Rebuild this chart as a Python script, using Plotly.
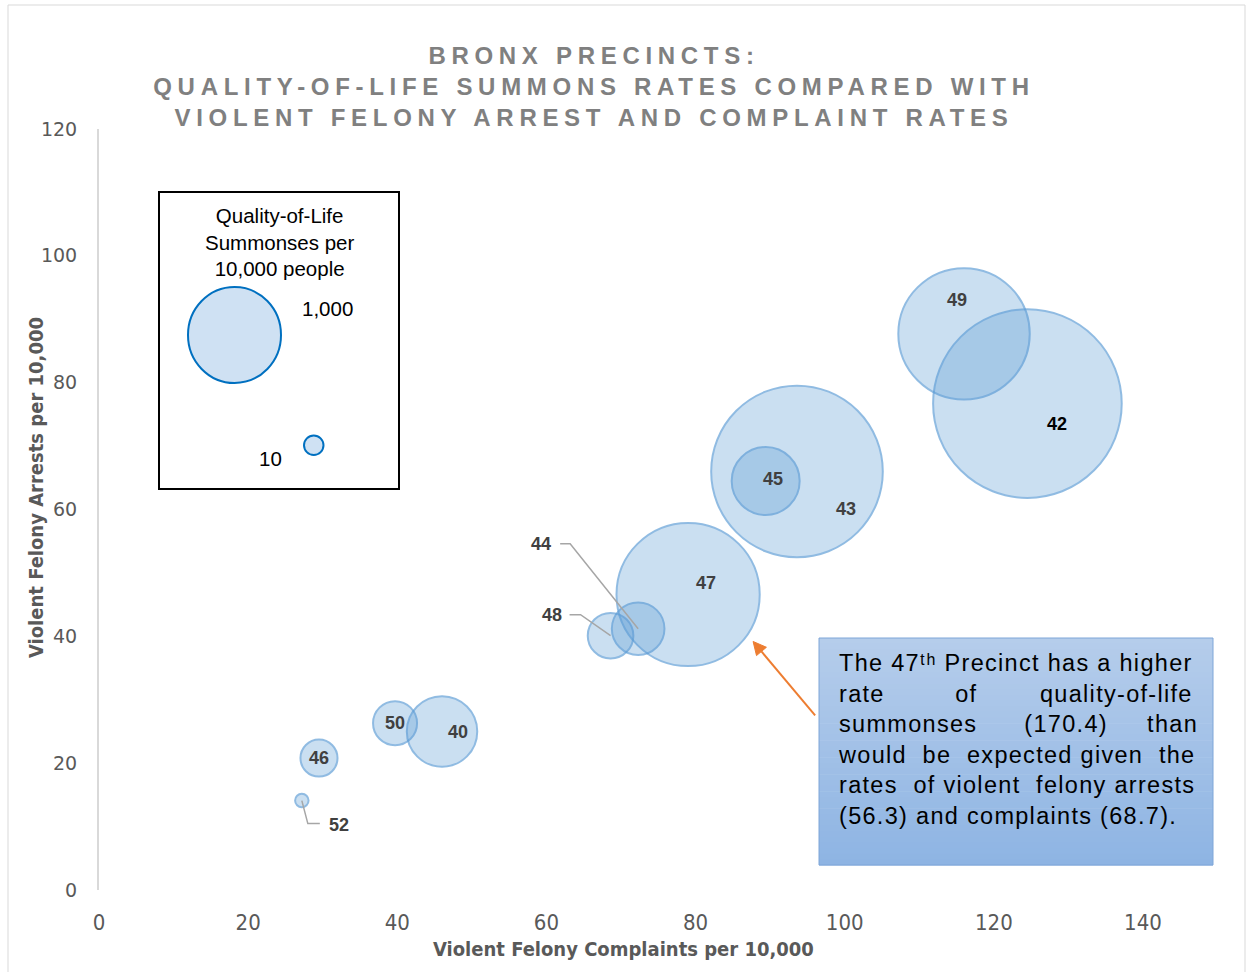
import math
import plotly.graph_objects as go

# ---------------- data ----------------
precincts = ["52", "46", "50", "40", "48", "44", "47", "45", "43", "49", "42"]
complaints = [27.2, 29.5, 39.7, 46.0, 68.6, 72.3, 79.0, 89.4, 93.6, 116.0, 124.5]
arrests = [14.1, 20.8, 26.3, 25.0, 40.1, 41.2, 46.6, 64.5, 66.0, 87.7, 76.7]
summons = [1.5, 11.4, 16.1, 41.2, 17.3, 23.0, 170.4, 38.4, 244.7, 143.5, 295.6]

x_ticks = [0, 20, 40, 60, 80, 100, 120, 140]
y_ticks = [0, 20, 40, 60, 80, 100, 120]

legend_title = "Quality-of-Life<br>Summonses per<br>10,000 people"
legend_values = ["1,000", "10"]

# callout lines (padding spaces emulate the justified text of the original)
callout_lines = [
    "The 47ᵗʰ Precinct has a higher",
    "rate         of        quality-of-life",
    "summonses      (170.4)     than",
    "would  be  expected given  the",
    "rates  of violent  felony arrests",
    "(56.3) and complaints (68.7).",
]

# ---------------- style ----------------
W, H = 1250, 972
L, R, T, B = 99, 107, 129, 82
PW, PH = W - L - R, H - T - B


def px(x):
    return (x - L) / PW


def py(y):
    return (H - B - y) / PH


# label offsets in pixels (xshift, yshift up-positive)
label_off = {
    "52": (37, -24), "46": (0, 0), "50": (0, 0), "40": (16, -1),
    "48": (-59, 21), "44": (-97, 85), "47": (18, 11), "45": (7, 2),
    "43": (49, -38), "49": (-7, 34), "42": (30, -20),
}
leaders = {
    "52": "M0,0 L6,-23 L18,-23",
    "48": "M0,0 L-30,21 L-41,21",
    "44": "M0,0 L-68,85 L-78,85",
}

bubble_max_px = 143.2
sizeref = 2 * 170.4 / (bubble_max_px ** 2)

fig = go.Figure()
fig.add_trace(go.Scatter(
    x=complaints, y=arrests, mode="markers",
    marker=dict(size=summons, sizemode="area", sizeref=sizeref,
                color="rgba(91,155,213,0.45)",
                line=dict(color="rgba(91,155,213,0.95)", width=2)),
    hovertext=precincts, showlegend=False, cliponaxis=False,
))

annotations = []
shapes = []
for p, xv, yv in zip(precincts, complaints, arrests):
    dx, dy = label_off[p]
    annotations.append(dict(
        x=xv, y=yv, xref="x", yref="y", text=p, showarrow=False,
        xshift=dx, yshift=dy,
        font=dict(family="Liberation Sans", size=18, weight="bold",
                  color="#000000" if p == "42" else "#404040"),
    ))
    if p in leaders:
        shapes.append(dict(
            type="path", xref="x", yref="y", xsizemode="pixel", ysizemode="pixel",
            xanchor=xv, yanchor=yv, path=leaders[p],
            line=dict(color="#A6A6A6", width=1.5), layer="above",
        ))

# outer chart border
shapes.append(dict(type="rect", xref="paper", yref="paper",
                   x0=px(8), x1=px(1245), y0=py(990), y1=py(5),
                   line=dict(color="#D9D9D9", width=1), layer="below"))

# legend box
shapes.append(dict(type="rect", xref="paper", yref="paper",
                   x0=px(159), x1=px(399), y0=py(489), y1=py(192),
                   line=dict(color="#000000", width=2), fillcolor="white", layer="below"))
shapes.append(dict(type="circle", xref="paper", yref="paper",
                   x0=px(188), x1=px(281), y0=py(383), y1=py(287),
                   line=dict(color="#0070C0", width=2), fillcolor="#CFE1F3"))
shapes.append(dict(type="circle", xref="paper", yref="paper",
                   x0=px(304), x1=px(323.5), y0=py(455), y1=py(435.5),
                   line=dict(color="#0070C0", width=2), fillcolor="#CFE1F3"))
annotations.append(dict(xref="paper", yref="paper", x=px(279), y=py(201.5),
                        xanchor="center", yanchor="top", text=legend_title,
                        showarrow=False,
                        font=dict(family="Liberation Sans", size=20.5, color="#000000")))
annotations.append(dict(xref="paper", yref="paper", x=px(327), y=py(308),
                        xanchor="center", yanchor="middle", text=legend_values[0],
                        showarrow=False,
                        font=dict(family="Liberation Sans", size=20.5, color="#000000")))
annotations.append(dict(xref="paper", yref="paper", x=px(270), y=py(458),
                        xanchor="center", yanchor="middle", text=legend_values[1],
                        showarrow=False,
                        font=dict(family="Liberation Sans", size=20.5, color="#000000")))

# callout box with vertical gradient
bx0, bx1, by0, by1 = 819, 1213, 638, 865
top_c = (181, 205, 235)
bot_c = (142, 180, 227)
n = 40
for i in range(n):
    t = (i + 0.5) / n
    c = tuple(round(top_c[k] + (bot_c[k] - top_c[k]) * t) for k in range(3))
    ya = by0 + (by1 - by0) * i / n
    yb = by0 + (by1 - by0) * (i + 1) / n
    shapes.append(dict(type="rect", xref="paper", yref="paper",
                       x0=px(bx0), x1=px(bx1), y0=py(yb + 0.6), y1=py(ya),
                       line=dict(width=0), fillcolor="rgb(%d,%d,%d)" % c, layer="above"))
shapes.append(dict(type="rect", xref="paper", yref="paper",
                   x0=px(bx0), x1=px(bx1), y0=py(by1), y1=py(by0),
                   line=dict(color="#7EA6D8", width=1), layer="above"))

callout = "<br>".join('<span style="letter-spacing:1.3px">%s</span>' % s
                      for s in callout_lines)
annotations.append(dict(xref="paper", yref="paper", x=px(836), y=py(648),
                        xanchor="left", yanchor="top", align="left", text=callout,
                        showarrow=False,
                        font=dict(family="Liberation Sans", size=23.5, color="#000000")))

# orange arrow pointing at precinct 47 (pixel offsets from its bubble centre)
i47 = precincts.index("47")
hx, hy = 65, -47      # head
tx, ty = 127, -121    # tail
dx, dy = hx - tx, hy - ty
ln = math.hypot(dx, dy)
ux, uy = dx / ln, dy / ln
pxp, pyp = -uy, ux
hl, hw = 13, 6.5
bxc, byc = hx - hl * ux, hy - hl * uy
shapes.append(dict(type="path", xref="x", yref="y", xsizemode="pixel", ysizemode="pixel",
                   xanchor=complaints[i47], yanchor=arrests[i47],
                   path="M%.1f,%.1f L%.1f,%.1f" % (tx, ty, bxc, byc),
                   line=dict(color="#ED7D31", width=2), layer="above"))
shapes.append(dict(type="path", xref="x", yref="y", xsizemode="pixel", ysizemode="pixel",
                   xanchor=complaints[i47], yanchor=arrests[i47],
                   path="M%.1f,%.1f L%.1f,%.1f L%.1f,%.1f Z" % (
                       hx, hy, bxc + hw * pxp, byc + hw * pyp, bxc - hw * pxp, byc - hw * pyp),
                   line=dict(color="#ED7D31", width=1), fillcolor="#ED7D31", layer="above"))

# axis titles
annotations.append(dict(xref="paper", yref="paper", x=px(623), y=py(949),
                        xanchor="center", yanchor="middle",
                        text="<b>Violent Felony Complaints per 10,000</b>", showarrow=False,
                        font=dict(family="DejaVu Sans Condensed", size=20, color="#595959")))
annotations.append(dict(xref="paper", yref="paper", x=px(36), y=py(488),
                        xanchor="center", yanchor="middle", textangle=-90,
                        text="<b>Violent Felony Arrests per 10,000</b>", showarrow=False,
                        font=dict(family="DejaVu Sans Condensed", size=20, color="#595959")))

sp = '<span style="letter-spacing:5.7px">%s</span>'
title_text = "<br>".join(sp % s for s in [
    "BRONX PRECINCTS:",
    "QUALITY-OF-LIFE SUMMONS RATES COMPARED WITH",
    "VIOLENT FELONY ARREST AND COMPLAINT RATES",
])

fig.update_layout(
    width=W, height=H,
    margin=dict(l=L, r=R, t=T, b=B),
    paper_bgcolor="white", plot_bgcolor="white",
    title=dict(text=title_text, x=594 / W, xanchor="center", xref="container",
               y=1 - 64 / H, yanchor="top", yref="container",
               font=dict(family="Liberation Sans", size=24, weight="bold", color="#808080")),
    xaxis=dict(range=[0, 140], tickvals=x_ticks, showgrid=False, zeroline=False,
               showline=False, ticks="", ticklabelstandoff=17,
               tickfont=dict(family="DejaVu Sans Condensed", size=22, color="#595959")),
    yaxis=dict(range=[0, 120], tickvals=y_ticks, showgrid=False, zeroline=False,
               showline=True, linecolor="#D9D9D9", linewidth=2, ticks="",
               ticklabelstandoff=16,
               tickfont=dict(family="DejaVu Sans", size=19, color="#595959")),
    shapes=shapes, annotations=annotations,
    showlegend=False,
)

fig.write_html("out.html", config={"displayModeBar": False},
               post_script="document.body.style.margin='0';")
